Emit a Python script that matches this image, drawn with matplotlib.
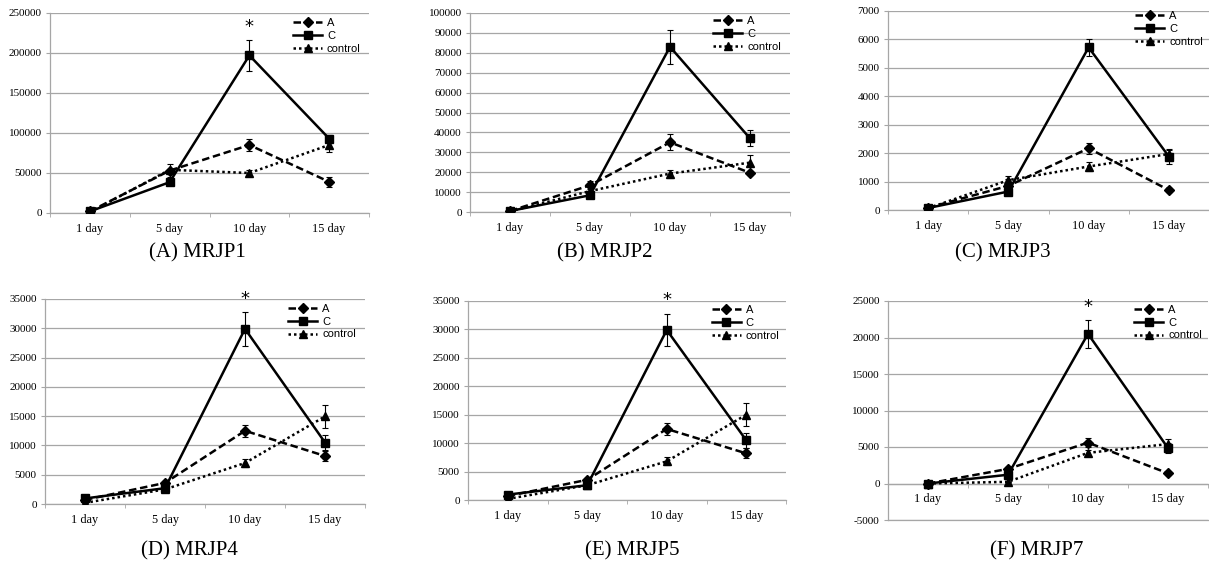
import matplotlib
matplotlib.use("Agg")
import matplotlib.pyplot as plt
from matplotlib.ticker import MultipleLocator, FixedLocator
import numpy as np

plt.rcParams["axes.unicode_minus"] = False

days = ["1 day", "5 day", "10 day", "15 day"]
series_names = ["A", "C", "control"]
titles = ["(A) MRJP1", "(B) MRJP2", "(C) MRJP3", "(D) MRJP4", "(E) MRJP5", "(F) MRJP7"]

# MRJP1
mrjp1_A = [2000, 53000, 85000, 39000]
mrjp1_A_err = [0, 8000, 7000, 6000]
mrjp1_C = [2000, 38500, 197000, 93000]
mrjp1_C_err = [0, 0, 19000, 5000]
mrjp1_ctrl = [1000, 54000, 50000, 85000]
mrjp1_ctrl_err = [0, 0, 4000, 9000]

# MRJP2
mrjp2_A = [500, 13400, 35000, 19700]
mrjp2_A_err = [0, 2000, 4000, 1000]
mrjp2_C = [500, 8400, 83000, 37000]
mrjp2_C_err = [0, 0, 8500, 4000]
mrjp2_ctrl = [300, 10500, 19300, 24800]
mrjp2_ctrl_err = [0, 0, 2000, 4000]

# MRJP3
mrjp3_A = [80, 850, 2170, 700]
mrjp3_A_err = [0, 250, 200, 60]
mrjp3_C = [70, 650, 5720, 1880]
mrjp3_C_err = [0, 80, 300, 250]
mrjp3_ctrl = [60, 1050, 1530, 1970]
mrjp3_ctrl_err = [0, 150, 150, 150]

# MRJP4
mrjp4_A = [700, 3600, 12500, 8200]
mrjp4_A_err = [0, 300, 1000, 900]
mrjp4_C = [950, 2700, 29900, 10500]
mrjp4_C_err = [0, 0, 2900, 1300]
mrjp4_ctrl = [200, 2500, 7000, 14950]
mrjp4_ctrl_err = [0, 0, 600, 2000]

# MRJP5
mrjp5_A = [700, 3550, 12500, 8200]
mrjp5_A_err = [0, 300, 1000, 900]
mrjp5_C = [950, 2600, 29900, 10500]
mrjp5_C_err = [0, 0, 2900, 1300]
mrjp5_ctrl = [200, 2600, 6800, 15000]
mrjp5_ctrl_err = [0, 0, 700, 2000]

# MRJP7
mrjp7_A = [0, 2000, 5600, 1400]
mrjp7_A_err = [0, 300, 600, 200]
mrjp7_C = [0, 1200, 20500, 4850]
mrjp7_C_err = [0, 0, 1900, 700]
mrjp7_ctrl = [0, 230, 4200, 5400]
mrjp7_ctrl_err = [0, 0, 400, 700]

panels = [
    (mrjp1_A, mrjp1_A_err, mrjp1_C, mrjp1_C_err, mrjp1_ctrl, mrjp1_ctrl_err),
    (mrjp2_A, mrjp2_A_err, mrjp2_C, mrjp2_C_err, mrjp2_ctrl, mrjp2_ctrl_err),
    (mrjp3_A, mrjp3_A_err, mrjp3_C, mrjp3_C_err, mrjp3_ctrl, mrjp3_ctrl_err),
    (mrjp4_A, mrjp4_A_err, mrjp4_C, mrjp4_C_err, mrjp4_ctrl, mrjp4_ctrl_err),
    (mrjp5_A, mrjp5_A_err, mrjp5_C, mrjp5_C_err, mrjp5_ctrl, mrjp5_ctrl_err),
    (mrjp7_A, mrjp7_A_err, mrjp7_C, mrjp7_C_err, mrjp7_ctrl, mrjp7_ctrl_err),
]
y_ranges = [(0, 250000, 50000), (0, 100000, 10000), (0, 7000, 1000),
            (0, 35000, 5000), (0, 35000, 5000), (-5000, 25000, 5000)]
star = [True, False, False, True, True, True]

W, H = 1209, 566
fig = plt.figure(figsize=(W / 100, H / 100), dpi=100)

# pixel boxes: left, top, right, bottom
boxes = [(50, 13, 369, 213), (470, 13, 790, 212), (888, 11, 1209, 210),
         (45, 299, 365, 504), (468, 301, 786, 500), (888, 301, 1208, 520)]
legend_pos = [(0.762, 0.975), (0.76, 0.985), (0.77, 1.0),
              (0.76, 0.976), (0.767, 0.98), (0.77, 0.982)]
title_pos = [(197, 253), (605, 253), (1003, 253), (189, 551), (632, 551), (1037, 551)]

serif = "Liberation Serif"
grid_c = "#a6a6a6"
x = np.arange(len(days))

for i, (l, t, r, b) in enumerate(boxes):
    ax = fig.add_axes([l / W, 1 - b / H, (r - l) / W, (b - t) / H])
    A, Ae, C, Ce, K, Ke = panels[i]
    lw = 1.8
    eb_kw = dict(color="black", lw=lw, capsize=2.2, elinewidth=0.8, capthick=0.8, zorder=3)
    ca = ax.errorbar(x, A, yerr=Ae, ls=(0, (3, 1.5)), marker="D", ms=5, **eb_kw)
    cc = ax.errorbar(x, C, yerr=Ce, ls="-", marker="s", ms=6, **eb_kw)
    ck = ax.errorbar(x, K, yerr=Ke, ls=(0, (1, 1.2)), marker="^", ms=5.5, **eb_kw)
    lo, hi, st = y_ranges[i]
    ax.set_ylim(lo, hi)
    ax.set_xlim(-0.5, 3.5)
    ax.yaxis.set_major_locator(MultipleLocator(st))
    ax.grid(axis="y", color=grid_c, lw=0.9)
    ax.set_axisbelow(True)
    for s in ["top", "right"]:
        ax.spines[s].set_visible(False)
    ax.spines["left"].set_color(grid_c)
    ax.spines["bottom"].set_color(grid_c)
    ax.spines["left"].set_linewidth(0.9)
    ax.spines["bottom"].set_linewidth(0.9)
    if lo < 0:
        ax.spines["bottom"].set_position(("data", 0))
        ax.axhline(lo, color=grid_c, lw=0.9, clip_on=False, zorder=0)
    ax.set_xticks(x)
    ax.set_xticklabels(days, fontfamily=serif, fontsize=8.8)
    ax.xaxis.set_minor_locator(FixedLocator([-0.5, 0.5, 1.5, 2.5, 3.5]))
    ax.tick_params(axis="x", which="major", length=0, pad=7)
    ax.tick_params(axis="x", which="minor", length=3, color=grid_c, direction="out")
    ax.tick_params(axis="y", length=3, color=grid_c, pad=3, labelsize=8)
    for lab in ax.get_yticklabels():
        lab.set_fontfamily(serif)
    if star[i]:
        ax.annotate("*", (2, C[2] + Ce[2]), xytext=(0, 3), textcoords="offset points",
                    ha="center", va="bottom", fontsize=13, fontfamily="DejaVu Sans")
    ax.legend([ca[0], cc[0], ck[0]], series_names, loc="upper left",
              bbox_to_anchor=legend_pos[i], frameon=False, numpoints=1,
              borderpad=0, borderaxespad=0, handlelength=2.6, handletextpad=0.45,
              labelspacing=0.25, prop={"family": "Liberation Sans", "size": 8})
    fig.text(title_pos[i][0] / W, 1 - title_pos[i][1] / H, titles[i], ha="center",
             va="center", fontfamily=serif, fontsize=15)

fig.savefig("out.png", dpi=100)
